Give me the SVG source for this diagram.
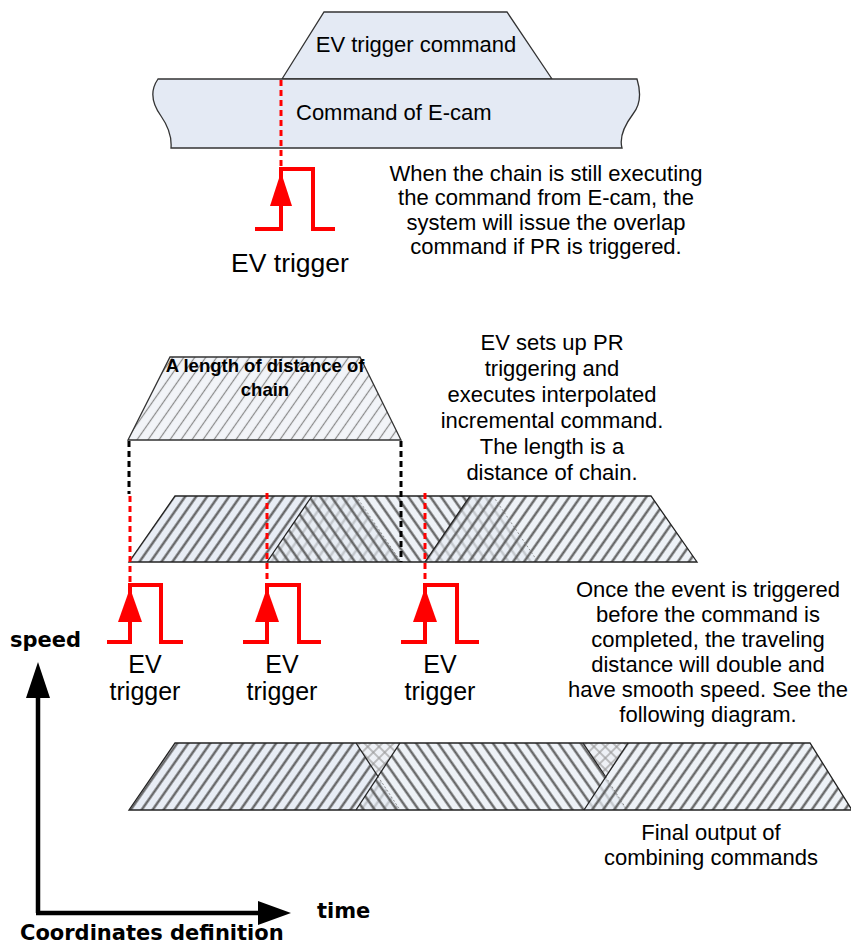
<svg xmlns="http://www.w3.org/2000/svg" width="851" height="946" viewBox="0 0 851 946">
<defs>
<style>
.t{font-family:"Liberation Sans",Arial,sans-serif;font-size:22px;fill:#000}
.tc{text-anchor:middle}
.ev{font-family:"Liberation Sans",Arial,sans-serif;font-size:25px;fill:#000;text-anchor:middle}
.bd{font-family:"DejaVu Sans",Verdana,sans-serif;font-weight:bold;font-size:21px;fill:#000}
.edge{stroke:#222;stroke-width:1.3;fill:none}
.faint{stroke:#777;stroke-width:0.8;fill:none;stroke-dasharray:2 2}
.red{stroke:#ff0000;stroke-width:3;fill:none;stroke-dasharray:6 4}
.blk{stroke:#000;stroke-width:3;fill:none;stroke-dasharray:6 4}
.pulse{stroke:#ff0000;stroke-width:4;fill:none;stroke-linejoin:miter}
.arr{fill:#ff0000}
.ax{stroke:#000;stroke-width:4.5;fill:none}
</style>
<pattern id="hR" width="9" height="9" patternUnits="userSpaceOnUse" patternTransform="rotate(35)">
<rect width="9" height="9" fill="#e8edf5"/>
<line x1="4.5" y1="0" x2="4.5" y2="9" stroke="#5a5a5a" stroke-width="2.2"/>
</pattern>
<pattern id="hL" width="9" height="9" patternUnits="userSpaceOnUse" patternTransform="rotate(-35)">
<rect width="9" height="9" fill="#e8edf5" fill-opacity="0.72"/>
<line x1="4.5" y1="0" x2="4.5" y2="9" stroke="#5a5a5a" stroke-width="2.2"/>
</pattern>
<pattern id="hR2" width="9" height="9" patternUnits="userSpaceOnUse" patternTransform="rotate(35)">
<rect width="9" height="9" fill="#e8edf5" fill-opacity="0.72"/>
<line x1="4.5" y1="0" x2="4.5" y2="9" stroke="#5a5a5a" stroke-width="2.2"/>
</pattern>
<pattern id="hX" width="8" height="8" patternUnits="userSpaceOnUse" patternTransform="rotate(45)">
<rect width="8" height="8" fill="#eef1f6"/>
<line x1="4" y1="0" x2="4" y2="8" stroke="#999" stroke-width="1.2"/>
<line x1="0" y1="4" x2="8" y2="4" stroke="#999" stroke-width="1.2"/>
</pattern>
<pattern id="hA" width="9" height="9" patternUnits="userSpaceOnUse" patternTransform="rotate(35)">
<rect width="9" height="9" fill="#f2f4f8"/>
<line x1="4.5" y1="0" x2="4.5" y2="9" stroke="#8a8a8a" stroke-width="1.2"/>
</pattern>
</defs>

<g id="ev-trigger-command">
<polygon points="282,79 324,12 507,12 552,79" fill="#e4eaf4" stroke="#333" stroke-width="1.3"/>
<text class="t tc" x="416" y="52">EV trigger command</text>
</g>

<g id="ecam-command">
<path d="M158,79 L637,79 C641,92 641,104 633,114 C624,126 619,137 622,148 L171,148 C172,136 168,126 161,116 C153,105 149,92 158,79 Z" fill="#e4eaf4" stroke="#333" stroke-width="1.3"/>
<text class="t" x="296" y="120">Command of E-cam</text>
</g>

<g id="note-top">
<text class="t tc" x="546" y="181">When the chain is still executing</text>
<text class="t tc" x="546" y="205">the command from E-cam, the</text>
<text class="t tc" x="546" y="230">system will issue the overlap</text>
<text class="t tc" x="546" y="254">command if PR is triggered.</text>
</g>

<g id="trigger-top">
<path class="pulse" d="M255,229 H281 V169 H313 V229 H335"/>
<polygon class="arr" points="270,206 292,206 281,172"/>
<text class="ev" x="290" y="272" style="font-size:26.5px">EV trigger</text>
</g>

<g id="length-chain">
<polygon points="128,440 170,357 360,357 401,440" fill="url(#hA)" stroke="#333" stroke-width="1.3"/>
<text style="font-family:'Liberation Sans',Arial,sans-serif;font-weight:bold;font-size:18.5px;text-anchor:middle" x="265" y="372">A length of distance of</text>
<text style="font-family:'Liberation Sans',Arial,sans-serif;font-weight:bold;font-size:18.5px;text-anchor:middle" x="265" y="396">chain</text>
</g>

<g id="note-middle">
<text class="t tc" x="552" y="350">EV sets up PR</text>
<text class="t tc" x="552" y="376">triggering and</text>
<text class="t tc" x="552" y="402">executes interpolated</text>
<text class="t tc" x="552" y="428">incremental command.</text>
<text class="t tc" x="552" y="454">The length is a</text>
<text class="t tc" x="552" y="480">distance of chain.</text>
</g>

<g id="overlap-commands">
<polygon points="129,562 175,496 356,496 401,562" fill="url(#hR)"/>
<polygon points="267,562 312,496 493,496 538,562" fill="url(#hL)"/>
<polygon points="425,562 470,496 651,496 697,562" fill="url(#hR2)"/>
<line class="faint" x1="356" y1="496" x2="401" y2="562"/>
<line class="faint" x1="493" y1="496" x2="538" y2="562"/>
<path class="edge" d="M175,496 H651 L697,562 H129 Z"/>
<line class="edge" x1="267" y1="562" x2="312" y2="496"/>
<line class="edge" x1="425" y1="562" x2="470" y2="496"/>
</g>

<g id="connectors">
<line class="red" x1="281" y1="80" x2="281" y2="169"/>
<line class="blk" x1="129" y1="441" x2="129" y2="494"/>
<line class="blk" x1="401" y1="441" x2="401" y2="562"/>
<line class="red" x1="130" y1="496" x2="130" y2="585"/>
<line class="red" x1="267" y1="493" x2="267" y2="585"/>
<line class="red" x1="425" y1="493" x2="425" y2="585"/>
<line class="ax" x1="38" y1="913" x2="38" y2="692"/>
<polygon points="26,698 50,698 38,662" fill="#000"/>
<line class="ax" x1="36" y1="913" x2="262" y2="913"/>
<polygon points="258,901 258,925 291,913" fill="#000"/>
</g>

<g id="trigger-1">
<path class="pulse" d="M107,642 H130 V585 H161 V642 H183"/>
<polygon class="arr" points="118,622 142,622 130,588"/>
<text class="ev" x="145" y="673">EV</text>
<text class="ev" x="145" y="700">trigger</text>
</g>
<g id="trigger-2">
<path class="pulse" d="M243,642 H267 V585 H299 V642 H321"/>
<polygon class="arr" points="255,622 279,622 267,588"/>
<text class="ev" x="282" y="673">EV</text>
<text class="ev" x="282" y="700">trigger</text>
</g>
<g id="trigger-3">
<path class="pulse" d="M401,642 H425 V585 H457 V642 H479"/>
<polygon class="arr" points="413,622 437,622 425,588"/>
<text class="ev" x="440" y="673">EV</text>
<text class="ev" x="440" y="700">trigger</text>
</g>

<g id="note-bottom">
<text class="t tc" x="708" y="597">Once the event is triggered</text>
<text class="t tc" x="708" y="622">before the command is</text>
<text class="t tc" x="708" y="647">completed, the traveling</text>
<text class="t tc" x="708" y="672">distance will double and</text>
<text class="t tc" x="708" y="697">have smooth speed. See the</text>
<text class="t tc" x="708" y="722">following diagram.</text>
</g>

<g id="final-output">
<polygon points="129,810 175,743 356,743 400,810" fill="url(#hR)"/>
<polygon points="356,810 400,743 583,743 627,810" fill="url(#hL)"/>
<polygon points="584,810 628,743 810,743 852,810" fill="url(#hR2)"/>
<polygon points="356,743 400,743 378,776.5" fill="url(#hX)"/>
<polygon points="583,743 628,743 605.5,776.5" fill="url(#hX)"/>
<line class="faint" x1="378" y1="776.5" x2="400" y2="810"/>
<line class="faint" x1="605.5" y1="776.5" x2="627" y2="810"/>
<path class="edge" d="M175,743 H810 L852,810 H129 Z"/>
<line class="edge" x1="356" y1="743" x2="378" y2="776.5"/>
<line class="edge" x1="356" y1="810" x2="400" y2="743"/>
<line class="edge" x1="583" y1="743" x2="605.5" y2="776.5"/>
<line class="edge" x1="584" y1="810" x2="628" y2="743"/>
<text class="t tc" x="711" y="840">Final output of</text>
<text class="t tc" x="711" y="865">combining commands</text>
</g>

<g id="axis-labels">
<text class="bd" x="10" y="647">speed</text>
<text class="bd" x="317" y="918">time</text>
<text class="bd" x="20" y="940">Coordinates definition</text>
</g>
</svg>
